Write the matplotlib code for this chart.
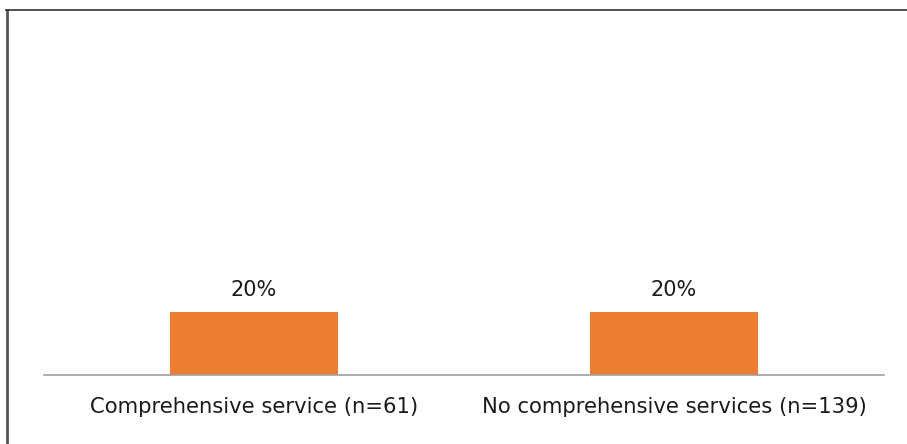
import matplotlib.pyplot as plt
from matplotlib.lines import Line2D

categories = ['Comprehensive service (n=61)', 'No comprehensive services (n=139)']
values = [0.20, 0.20]
value_labels = ['20%', '20%']

fig = plt.figure(figsize=(9.07, 4.44), dpi=100)
ax = fig.add_axes([44 / 907, 1 - 375 / 444, 840 / 907, 315 / 444])

x = range(len(categories))
bars = ax.bar(x, values, width=0.4, color='#ED7D31')
for b, lab in zip(bars, value_labels):
    ax.text(b.get_x() + b.get_width() / 2, b.get_height() + 0.037, lab,
            ha='center', va='bottom', fontsize=15, color='#1a1a1a')

ax.set_xlim(-0.5, 1.5)
ax.set_ylim(0, 1)
ax.set_yticks([])
ax.set_xticks(list(x))
ax.set_xticklabels(categories, fontsize=15.2, color='#1a1a1a')
ax.tick_params(axis='x', length=0, pad=16)
for s in ['top', 'right', 'left']:
    ax.spines[s].set_visible(False)
ax.spines['bottom'].set_color('#A0A0A0')
ax.spines['bottom'].set_linewidth(1.2)

# outer frame (left and top edges)
fig.add_artist(Line2D([7 / 907, 7 / 907], [0, 1 - 10 / 444], transform=fig.transFigure,
                      color='#555555', linewidth=2))
fig.add_artist(Line2D([6 / 907, 1], [1 - 10 / 444, 1 - 10 / 444], transform=fig.transFigure,
                      color='#333333', linewidth=1.2))

fig.savefig('out.png', dpi=100)
